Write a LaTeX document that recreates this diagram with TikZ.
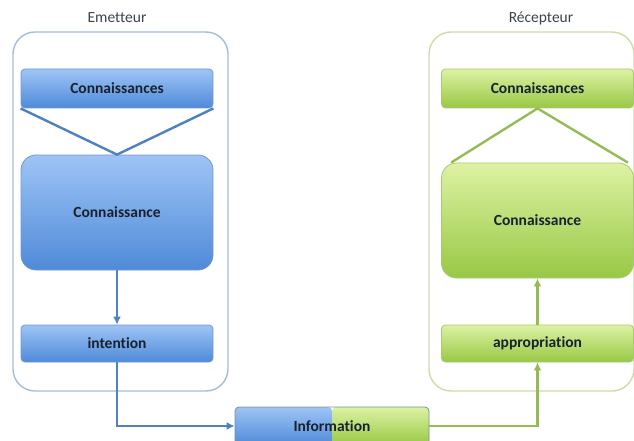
\documentclass[tikz,border=0pt]{standalone}
\usepackage{fontspec}
\setmainfont{Carlito}[Ligatures=NoCommon]
\usetikzlibrary{arrows.meta,calc}
\definecolor{bluetop}{HTML}{9EC4F6}
\definecolor{bluebot}{HTML}{4F8AD8}
\definecolor{blueline}{HTML}{4F80C0}
\definecolor{bluefrm}{HTML}{A4BCDC}
\definecolor{greentop}{HTML}{DDF2A4}
\definecolor{greenbot}{HTML}{98C844}
\definecolor{greenline}{HTML}{96BA56}
\definecolor{greenfrm}{HTML}{CCDCA6}
\definecolor{txt}{HTML}{18222E}
\tikzset{
  frame/.style={draw, line width=1.4pt, rounded corners=22pt},
  title/.style={font=\fontsize{15.5}{17}\selectfont, text=txt!85},
  bluebox/.style={draw=blueline!80, line width=0.8pt, rounded corners=4pt,
    top color=bluetop, bottom color=bluebot, text=txt,
    font=\fontsize{15.5}{18}\selectfont\bfseries, minimum width=192pt, inner sep=0pt},
  greenbox/.style={bluebox, draw=greenline!80, top color=greentop, bottom color=greenbot},
  link/.style={line width=2.4pt},
  tip/.style={-{Latex[length=8pt,width=8pt]}}
}
\begin{document}
\begin{tikzpicture}[x=1pt, y=-1pt]
      \clip (0,0) rectangle (634,441);
      %
      % emetteur side
      \node[frame, draw=bluefrm, minimum width=215pt, minimum height=359pt] (emit) at (120.5,211.5) {};
      \node[title] (emittitle) at (117,18) {Emetteur};
      \node[bluebox, minimum height=39pt] (knowL) at (117,88.5) {Connaissances};
      \node[bluebox, minimum height=115pt, rounded corners=15pt] (ideaL) at (117,212.5) {Connaissance};
      \node[bluebox, minimum height=37pt] (intentL) at (117,343.5) {intention};
      %
      % recepteur side
      \node[frame, draw=greenfrm, minimum width=205pt, minimum height=359pt] (recv) at (531.5,211.5) {};
      \node[title] (recvtitle) at (541,18) {Récepteur};
      \node[greenbox, minimum height=39pt] (knowR) at (537.5,88.5) {Connaissances};
      \node[greenbox, minimum height=115pt, rounded corners=15pt] (ideaR) at (537.5,220.5) {Connaissance};
      \node[greenbox, minimum height=37pt] (appropR) at (537.5,343.5) {appropriation};
      %
      % message in between
      \node[draw=blueline!60!greenline, line width=0.8pt, rounded corners=4pt,
        minimum width=194pt, minimum height=38pt, text=txt,
        font=\fontsize{15.5}{18}\selectfont\bfseries,
        path picture={
          \shade[top color=bluetop, bottom color=bluebot]
            (path picture bounding box.south west) rectangle (path picture bounding box.north);
          \shade[top color=greentop, bottom color=greenbot]
            (path picture bounding box.north) rectangle (path picture bounding box.south east);
        }] (info) at (332,426) {Information};
      %
      \draw[link, blueline] (knowL.south west) -- (ideaL.north) -- (knowL.south east);
      \draw[link, greenline] ($(ideaR.north west)+(10,0)$) -- (knowR.south) -- ($(ideaR.north east)+(-6,0)$);
      %
      \draw[link, blueline, tip] (ideaL.south) -- (intentL.north);
      \draw[link, blueline, tip] (intentL.south) |- (info.west);
      \draw[link, greenline, tip] (info.east) -| (appropR.south);
      \draw[link, greenline, tip] (appropR.north) -- (ideaR.south);
      %
    \end{tikzpicture}
\end{document}
